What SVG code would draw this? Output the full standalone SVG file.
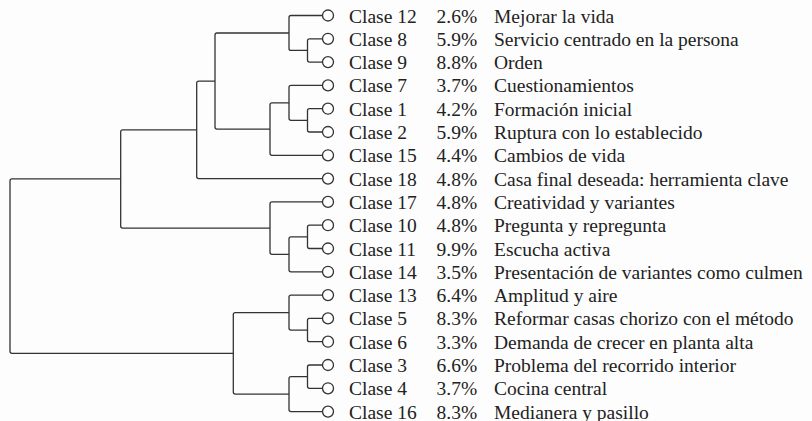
<svg xmlns="http://www.w3.org/2000/svg" width="812" height="421" viewBox="0 0 812 421">
<rect width="812" height="421" fill="#fdfdfd"/>
<g id="connectors" fill="none" stroke="#333" stroke-width="1.3" stroke-linejoin="round">
<path d="M322.5 38.8 H309.5 Q307.5 38.8 307.5 40.8 V60.1 Q307.5 62.1 309.5 62.1 H322.5"/>
<path d="M322.5 15.5 H291 Q289 15.5 289 17.5 V48.45 Q289 50.45 291 50.45 H307.5"/>
<path d="M322.5 108.7 H309.5 Q307.5 108.7 307.5 110.7 V130 Q307.5 132 309.5 132 H322.5"/>
<path d="M322.5 85.4 H291 Q289 85.4 289 87.4 V118.35 Q289 120.35 291 120.35 H307.5"/>
<path d="M289 102.9 H272 Q270 102.9 270 104.9 V153.3 Q270 155.3 272 155.3 H322.5"/>
<path d="M289 33 H217 Q215 33 215 35 V127.1 Q215 129.1 217 129.1 H270"/>
<path d="M215 81.05 H198.7 Q196.7 81.05 196.7 83.05 V176.6 Q196.7 178.6 198.7 178.6 H322.5"/>
<path d="M322.5 225.2 H309.5 Q307.5 225.2 307.5 227.2 V246.5 Q307.5 248.5 309.5 248.5 H322.5"/>
<path d="M307.5 236.85 H291 Q289 236.85 289 238.85 V269.8 Q289 271.8 291 271.8 H322.5"/>
<path d="M322.5 201.9 H272 Q270 201.9 270 203.9 V252.3 Q270 254.3 272 254.3 H289"/>
<path d="M196.7 129.8 H122.7 Q120.7 129.8 120.7 131.8 V226.1 Q120.7 228.1 122.7 228.1 H270"/>
<path d="M322.5 318.4 H309.5 Q307.5 318.4 307.5 320.4 V339.7 Q307.5 341.7 309.5 341.7 H322.5"/>
<path d="M322.5 295.1 H291 Q289 295.1 289 297.1 V328.05 Q289 330.05 291 330.05 H307.5"/>
<path d="M322.5 365 H309.5 Q307.5 365 307.5 367 V386.3 Q307.5 388.3 309.5 388.3 H322.5"/>
<path d="M307.5 376.65 H291 Q289 376.65 289 378.65 V409.6 Q289 411.6 291 411.6 H322.5"/>
<path d="M289 312.6 H235.3 Q233.3 312.6 233.3 314.6 V392.1 Q233.3 394.1 235.3 394.1 H289"/>
<path d="M120.7 178.95 H12 Q10 178.95 10 180.95 V351.35 Q10 353.35 12 353.35 H233.3"/>
</g>
<g font-family="Liberation Serif, serif" font-size="19.5" fill="#222">
<g id="clase12"><circle fill="#fff" stroke="#333" stroke-width="1.3" cx="328" cy="15.5" r="5.5"/><text x="349" y="22.5">Clase 12</text><text x="436.5" y="22.5">2.6%</text><text x="494" y="22.5">Mejorar la vida</text></g>
<g id="clase8"><circle fill="#fff" stroke="#333" stroke-width="1.3" cx="328" cy="38.8" r="5.5"/><text x="349" y="45.8">Clase 8</text><text x="436.5" y="45.8">5.9%</text><text x="494" y="45.8">Servicio centrado en la persona</text></g>
<g id="clase9"><circle fill="#fff" stroke="#333" stroke-width="1.3" cx="328" cy="62.1" r="5.5"/><text x="349" y="69.1">Clase 9</text><text x="436.5" y="69.1">8.8%</text><text x="494" y="69.1">Orden</text></g>
<g id="clase7"><circle fill="#fff" stroke="#333" stroke-width="1.3" cx="328" cy="85.4" r="5.5"/><text x="349" y="92.4">Clase 7</text><text x="436.5" y="92.4">3.7%</text><text x="494" y="92.4">Cuestionamientos</text></g>
<g id="clase1"><circle fill="#fff" stroke="#333" stroke-width="1.3" cx="328" cy="108.7" r="5.5"/><text x="349" y="115.7">Clase 1</text><text x="436.5" y="115.7">4.2%</text><text x="494" y="115.7">Formación inicial</text></g>
<g id="clase2"><circle fill="#fff" stroke="#333" stroke-width="1.3" cx="328" cy="132" r="5.5"/><text x="349" y="139">Clase 2</text><text x="436.5" y="139">5.9%</text><text x="494" y="139">Ruptura con lo establecido</text></g>
<g id="clase15"><circle fill="#fff" stroke="#333" stroke-width="1.3" cx="328" cy="155.3" r="5.5"/><text x="349" y="162.3">Clase 15</text><text x="436.5" y="162.3">4.4%</text><text x="494" y="162.3">Cambios de vida</text></g>
<g id="clase18"><circle fill="#fff" stroke="#333" stroke-width="1.3" cx="328" cy="178.6" r="5.5"/><text x="349" y="185.6">Clase 18</text><text x="436.5" y="185.6">4.8%</text><text x="494" y="185.6">Casa final deseada: herramienta clave</text></g>
<g id="clase17"><circle fill="#fff" stroke="#333" stroke-width="1.3" cx="328" cy="201.9" r="5.5"/><text x="349" y="208.9">Clase 17</text><text x="436.5" y="208.9">4.8%</text><text x="494" y="208.9">Creatividad y variantes</text></g>
<g id="clase10"><circle fill="#fff" stroke="#333" stroke-width="1.3" cx="328" cy="225.2" r="5.5"/><text x="349" y="232.2">Clase 10</text><text x="436.5" y="232.2">4.8%</text><text x="494" y="232.2">Pregunta y repregunta</text></g>
<g id="clase11"><circle fill="#fff" stroke="#333" stroke-width="1.3" cx="328" cy="248.5" r="5.5"/><text x="349" y="255.5">Clase 11</text><text x="436.5" y="255.5">9.9%</text><text x="494" y="255.5">Escucha activa</text></g>
<g id="clase14"><circle fill="#fff" stroke="#333" stroke-width="1.3" cx="328" cy="271.8" r="5.5"/><text x="349" y="278.8">Clase 14</text><text x="436.5" y="278.8">3.5%</text><text x="494" y="278.8">Presentación de variantes como culmen</text></g>
<g id="clase13"><circle fill="#fff" stroke="#333" stroke-width="1.3" cx="328" cy="295.1" r="5.5"/><text x="349" y="302.1">Clase 13</text><text x="436.5" y="302.1">6.4%</text><text x="494" y="302.1">Amplitud y aire</text></g>
<g id="clase5"><circle fill="#fff" stroke="#333" stroke-width="1.3" cx="328" cy="318.4" r="5.5"/><text x="349" y="325.4">Clase 5</text><text x="436.5" y="325.4">8.3%</text><text x="494" y="325.4">Reformar casas chorizo con el método</text></g>
<g id="clase6"><circle fill="#fff" stroke="#333" stroke-width="1.3" cx="328" cy="341.7" r="5.5"/><text x="349" y="348.7">Clase 6</text><text x="436.5" y="348.7">3.3%</text><text x="494" y="348.7">Demanda de crecer en planta alta</text></g>
<g id="clase3"><circle fill="#fff" stroke="#333" stroke-width="1.3" cx="328" cy="365" r="5.5"/><text x="349" y="372">Clase 3</text><text x="436.5" y="372">6.6%</text><text x="494" y="372">Problema del recorrido interior</text></g>
<g id="clase4"><circle fill="#fff" stroke="#333" stroke-width="1.3" cx="328" cy="388.3" r="5.5"/><text x="349" y="395.3">Clase 4</text><text x="436.5" y="395.3">3.7%</text><text x="494" y="395.3">Cocina central</text></g>
<g id="clase16"><circle fill="#fff" stroke="#333" stroke-width="1.3" cx="328" cy="411.6" r="5.5"/><text x="349" y="418.6">Clase 16</text><text x="436.5" y="418.6">8.3%</text><text x="494" y="418.6">Medianera y pasillo</text></g>
</g>
</svg>
